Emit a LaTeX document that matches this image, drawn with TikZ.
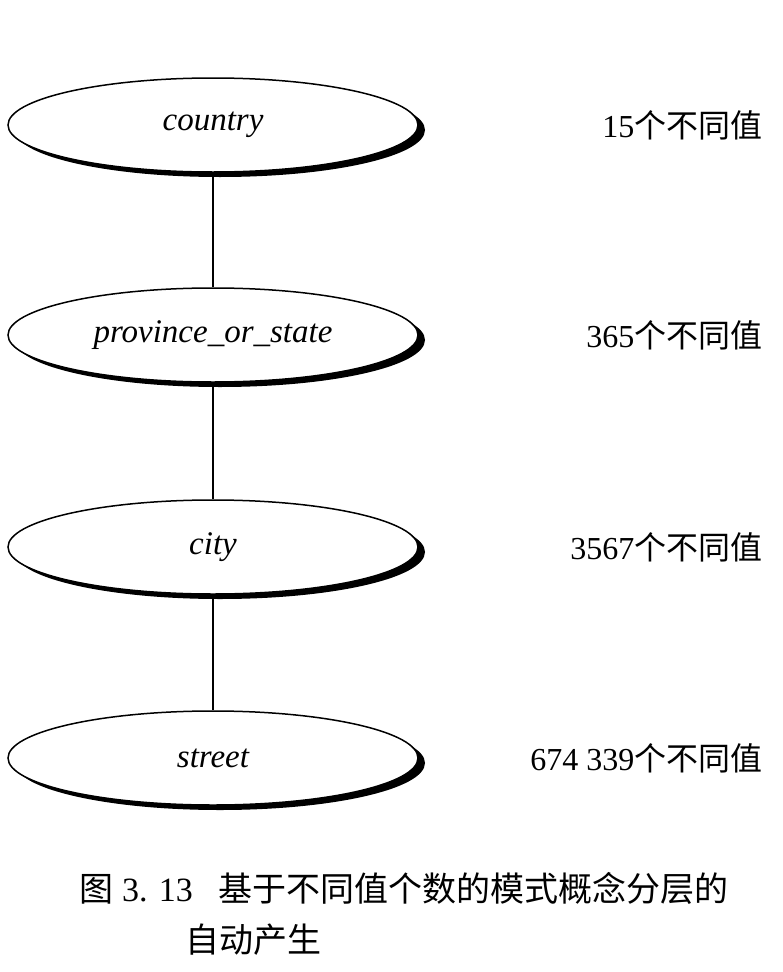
\documentclass[tikz,border=0pt]{standalone}
\usepackage{fontspec}
\setmainfont{Liberation Serif}
\newfontfamily\cjk{Noto Sans CJK SC}
\usetikzlibrary{shapes.geometric}
\begin{document}
\begin{tikzpicture}[x=1pt,y=-1pt,
  lvl/.style={ellipse,draw,line width=1.5pt,fill=white,minimum width=410pt,minimum height=94pt,font=\fontsize{33}{36}\selectfont\itshape,inner sep=0pt},
  shad/.style={ellipse,fill=black,minimum width=410pt,minimum height=94pt,inner sep=0pt},
  cnt/.style={anchor=east,font=\fontsize{32}{36}\selectfont},
  captext/.style={anchor=west,font=\fontsize{34}{38}\selectfont}]
\useasboundingbox (0,0) rectangle (783,972);
\foreach \y in {125,335,547,758}{\node[shad] at (220,\y+5) {};}
\node[lvl] (a) at (213,125) {country};
\node[lvl] (b) at (213,335) {province\_or\_state};
\node[lvl] (c) at (213,547) {city};
\node[lvl] (d) at (213,758) {street};
\draw[line width=1.5pt] (a) -- (b) (b) -- (c) (c) -- (d);
\node[cnt] (na) at (766,125) {15{\cjk 个不同值}};
\node[cnt] (nb) at (766,335) {365{\cjk 个不同值}};
\node[cnt] (nc) at (766,547) {3567{\cjk 个不同值}};
\node[cnt] (nd) at (766,758) {674 339{\cjk 个不同值}};
\node[captext] (t1) at (76,888) {{\cjk 图} 3. 13\hspace{26pt}{\cjk 基于不同值个数的模式概念分层的}};
\node[captext] (t2) at (182,940) {\cjk 自动产生};
\end{tikzpicture}
\end{document}
